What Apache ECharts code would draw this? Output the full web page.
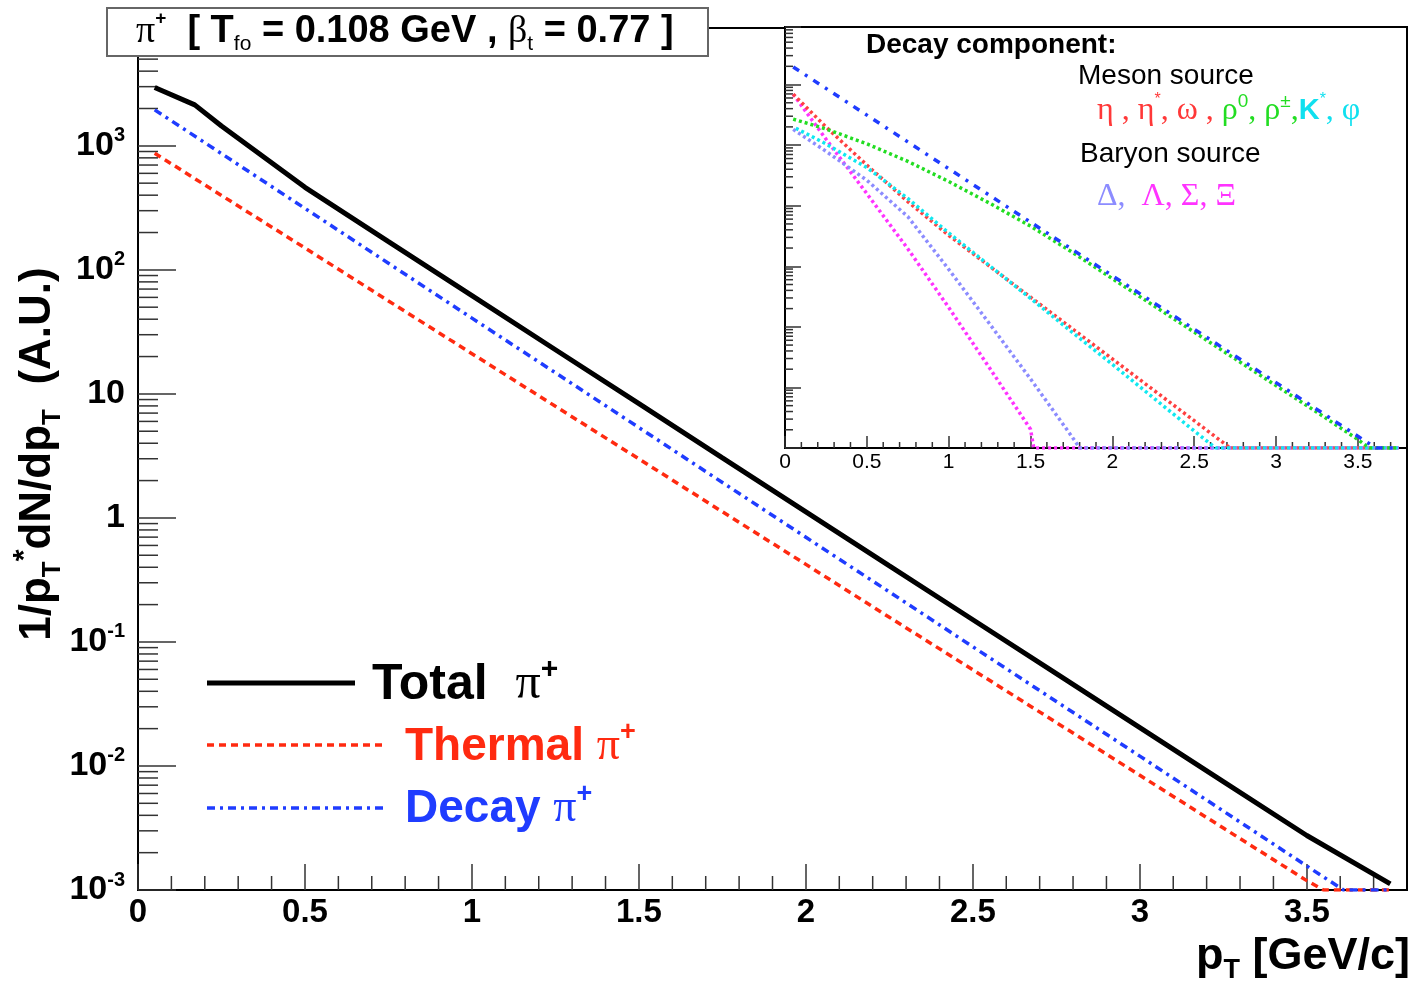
<!DOCTYPE html>
<html>
<head>
<meta charset="utf-8">
<script src="https://cdn.jsdelivr.net/npm/echarts@6/dist/echarts.min.js"></script>
<style>
html,body{margin:0;padding:0;background:#fff;}
#chart{width:1412px;height:982px;}
</style>
</head>
<body>
<div id="chart"></div>
<script>
// ---------- Main panel data (pT in GeV/c, yield in A.U.) ----------
const totalPt   = [0.05, 0.17, 0.25, 0.5, 0.75, 1.0, 1.25, 1.5, 1.75, 2.0, 2.25, 2.5, 2.75, 3.0, 3.25, 3.5, 3.75];
const totalVal  = [2950, 2140, 1445, 463, 169, 61.9, 22.7, 8.34, 3.05, 1.12, 0.411, 0.151, 0.0555, 0.0204, 0.00749, 0.00275, 0.00112];
const thermalPt = [0.05, 0.25, 0.5, 0.75, 1.0, 1.25, 1.5, 1.75, 2.0, 2.25, 2.5, 2.75, 3.0, 3.25, 3.5, 3.55, 3.75];
const thermalVal= [871, 398, 150, 56.2, 21.1, 7.94, 2.99, 1.12, 0.422, 0.158, 0.0596, 0.0224, 0.00841, 0.00316, 0.00119, 0.001, 0.001];
const decayPt   = [0.05, 0.25, 0.5, 0.75, 1.0, 1.25, 1.5, 1.75, 2.0, 2.25, 2.5, 2.75, 3.0, 3.25, 3.5, 3.61, 3.75];
const decayVal  = [1950, 865, 313, 113, 40.8, 14.8, 5.35, 1.93, 0.698, 0.253, 0.0914, 0.0331, 0.0120, 0.00433, 0.00156, 0.001, 0.001];

// ---------- Inset: decay components ----------
const etaPt     = [0.05, 0.25, 0.5, 0.75, 1.0, 1.25, 1.5, 1.75, 2.0, 2.25, 2.5, 2.72, 3.75];
const etaVal    = [692, 200, 46.8, 11.7, 3.24, 1.0, 0.309, 0.0955, 0.0295, 0.00912, 0.00282, 0.001, 0.001];
const rhoPt     = [0.05, 0.25, 0.5, 0.75, 1.0, 1.25, 1.5, 1.75, 2.0, 2.25, 2.5, 2.75, 3.0, 3.25, 3.5, 3.57, 3.75];
const rhoVal    = [269, 185, 105, 54.0, 25.1, 11.0, 4.6, 1.74, 0.625, 0.226, 0.0818, 0.0296, 0.0107, 0.0039, 0.00138, 0.001, 0.001];
const kstarPt   = [0.05, 0.25, 0.5, 0.75, 1.0, 1.25, 1.5, 1.75, 2.0, 2.25, 2.5, 2.63, 3.75];
const kstarVal  = [200, 105, 42.7, 13.2, 3.55, 1.02, 0.295, 0.0832, 0.024, 0.00676, 0.00191, 0.001, 0.001];
const deltaPt   = [0.05, 0.25, 0.5, 0.75, 1.0, 1.25, 1.5, 1.75, 1.8, 3.75];
const deltaVal  = [182, 79.4, 26.3, 6.61, 0.891, 0.112, 0.0138, 0.00158, 0.001, 0.001];
const hyperonPt = [0.05, 0.25, 0.5, 0.75, 1.0, 1.25, 1.5, 1.52, 3.75];
const hyperonVal= [692, 126, 15.8, 1.95, 0.209, 0.0209, 0.00204, 0.001, 0.001];

// ---------- Axis ranges / ticks ----------
const X_MIN = 0, X_MAX = 3.8, X_STEP = 0.5;
const Y_MIN = 0.001, Y_MAX = 8913;
const xMinorTicks = [];
for (let i = 1; i <= 37; i++) if (i % 5 !== 0) xMinorTicks.push(i / 10);
const yMinorTicks = [];
for (let e = -3; e <= 3; e++) for (let k = 2; k <= 9; k++) { const v = k * Math.pow(10, e); if (v < Y_MAX) yMinorTicks.push(v); }

const pair = (xs, ys) => xs.map((x, i) => [x, ys[i]]);

const chart = echarts.init(document.getElementById('chart'), null, {renderer: 'canvas'});

const SANS = 'Liberation Sans, Arial, Helvetica, sans-serif';
const SERIF = 'Liberation Serif, Times New Roman, serif';

function yLabel(v) {
  const e = Math.round(Math.log10(v));
  if (Math.abs(Math.log10(v) - e) > 1e-6) return '';
  if (e === 0) return '1';
  if (e === 1) return '10';
  return '10{sup|' + e + '}';
}

function minorSeries(xi, yi, dir, len, data) {
  return {
    type: 'custom', xAxisIndex: xi, yAxisIndex: yi, silent: true, clip: false, z: 3,
    data: data,
    renderItem: function (params, api) {
      const p = api.coord([api.value(0), api.value(1)]);
      const shape = dir === 'y'
        ? {x1: p[0], y1: p[1], x2: p[0] + len, y2: p[1]}
        : {x1: p[0], y1: p[1], x2: p[0], y2: p[1] - len};
      return {type: 'line', shape: shape, style: {stroke: '#333', lineWidth: 1.5}};
    }
  };
}

const DOT = [3, 3];

const option = {
  backgroundColor: '#fff',
  animation: false,
  textStyle: {fontFamily: SANS},
  grid: [
    {left: 138, top: 28, right: 5, bottom: 92, show: true, borderColor: '#000', borderWidth: 2, backgroundColor: 'rgba(0,0,0,0)', containLabel: false},
    {left: 785, top: 27, right: 5, bottom: 534, show: true, borderColor: '#000', borderWidth: 2, backgroundColor: '#fff', containLabel: false, z: 5}
  ],
  xAxis: [
    {
      type: 'value', gridIndex: 0, min: X_MIN, max: X_MAX, interval: X_STEP,
      axisLine: {show: true, onZero: false, lineStyle: {color: '#000', width: 2}},
      axisTick: {show: true, inside: true, length: 26, lineStyle: {color: '#333', width: 1.5}},
      splitLine: {show: false},
      axisLabel: {show: true, showMaxLabel: false, margin: 6, color: '#000', fontSize: 33, fontWeight: 'bold', fontFamily: SANS,
        formatter: v => (Math.abs(v / X_STEP - Math.round(v / X_STEP)) < 1e-6 ? String(+v.toFixed(1)) : '')}
    },
    {
      type: 'value', gridIndex: 1, min: X_MIN, max: X_MAX, interval: X_STEP, z: 6,
      axisLine: {show: true, onZero: false, lineStyle: {color: '#000', width: 2}},
      axisTick: {show: true, inside: true, length: 12, lineStyle: {color: '#333', width: 1.5}},
      splitLine: {show: false},
      axisLabel: {show: true, showMaxLabel: false, margin: 4, color: '#000', fontSize: 21, fontFamily: SANS,
        formatter: v => (Math.abs(v / X_STEP - Math.round(v / X_STEP)) < 1e-6 ? String(+v.toFixed(1)) : '')}
    }
  ],
  yAxis: [
    {
      type: 'log', logBase: 10, gridIndex: 0, min: Y_MIN, max: Y_MAX,
      axisLine: {show: true, onZero: false, lineStyle: {color: '#000', width: 2}},
      axisTick: {show: true, inside: true, length: 38, lineStyle: {color: '#333', width: 1.5}},
      splitLine: {show: false},
      axisLabel: {show: true, showMaxLabel: false, margin: 13, color: '#000', fontSize: 34, fontWeight: 'bold', fontFamily: SANS, lineHeight: 40,
        formatter: yLabel,
        rich: {sup: {fontSize: 20, fontWeight: 'bold', verticalAlign: 'top', lineHeight: 20, fontFamily: SANS, color: '#000'}}}
    },
    {
      type: 'log', logBase: 10, gridIndex: 1, min: Y_MIN, max: Y_MAX, z: 6,
      axisLine: {show: true, onZero: false, lineStyle: {color: '#000', width: 2}},
      axisTick: {show: true, inside: true, length: 16, lineStyle: {color: '#333', width: 1.5}},
      splitLine: {show: false},
      axisLabel: {show: false}
    }
  ],
  series: [
    minorSeries(0, 0, 'y', 20, yMinorTicks.map(v => [0, v])),
    minorSeries(0, 0, 'x', 14, xMinorTicks.map(v => [v, Y_MIN])),
    {name: 'Thermal', type: 'line', xAxisIndex: 0, yAxisIndex: 0, data: pair(thermalPt, thermalVal), showSymbol: false, z: 4,
      lineStyle: {color: '#ff2a10', width: 3.5, type: [7, 5]}},
    {name: 'Decay', type: 'line', xAxisIndex: 0, yAxisIndex: 0, data: pair(decayPt, decayVal), showSymbol: false, z: 4,
      lineStyle: {color: '#1f3cff', width: 3.5, type: [8, 5, 3, 5]}},
    {name: 'Total', type: 'line', xAxisIndex: 0, yAxisIndex: 0, data: pair(totalPt, totalVal), showSymbol: false, z: 4,
      lineStyle: {color: '#000', width: 5}},

    Object.assign(minorSeries(1, 1, 'y', 8, yMinorTicks.map(v => [0, v])), {z: 7}),
    Object.assign(minorSeries(1, 1, 'x', 6, xMinorTicks.map(v => [v, Y_MIN])), {z: 7}),
    {name: 'hyperon', type: 'line', xAxisIndex: 1, yAxisIndex: 1, data: pair(hyperonPt, hyperonVal), showSymbol: false, z: 8,
      lineStyle: {color: '#ff33ff', width: 3.5, type: DOT}},
    {name: 'delta', type: 'line', xAxisIndex: 1, yAxisIndex: 1, data: pair(deltaPt, deltaVal), showSymbol: false, z: 8,
      lineStyle: {color: '#8c8cff', width: 3.5, type: DOT}},
    {name: 'eta', type: 'line', xAxisIndex: 1, yAxisIndex: 1, data: pair(etaPt, etaVal), showSymbol: false, z: 8,
      lineStyle: {color: '#ff4040', width: 3.5, type: DOT}},
    {name: 'kstar', type: 'line', xAxisIndex: 1, yAxisIndex: 1, data: pair(kstarPt, kstarVal), showSymbol: false, z: 8,
      lineStyle: {color: '#10e8f0', width: 3.5, type: DOT, dashOffset: 3}},
    {name: 'rho', type: 'line', xAxisIndex: 1, yAxisIndex: 1, data: pair(rhoPt, rhoVal), showSymbol: false, z: 8,
      lineStyle: {color: '#22dd22', width: 3.5, type: DOT}},
    {name: 'decayInset', type: 'line', xAxisIndex: 1, yAxisIndex: 1, data: pair(decayPt, decayVal), showSymbol: false, z: 9,
      lineStyle: {color: '#1f3cff', width: 3.5, type: [7, 7, 3, 7]}}
  ],
  graphic: [
    // title box
    {type: 'rect', z: 100, shape: {x: 107, y: 8, width: 601, height: 48}, style: {fill: '#fff', stroke: '#666', lineWidth: 2}},
    {type: 'text', z: 101, x: 136, y: 32, style: {
      text: '{pi|π}{psup|+}  [ T{sub|fo} = 0.108 GeV , {pi|β}{sub|t} = 0.77 ]',
      font: 'bold 38px ' + SANS, fill: '#000', verticalAlign: 'middle', align: 'left', lineHeight: 46,
      rich: {
        pi: {fontFamily: SERIF, fontSize: 38, fontWeight: 'normal', fill: '#000'},
        psup: {fontFamily: SANS, fontSize: 19, fontWeight: 'bold', verticalAlign: 'top', lineHeight: 19},
        sub: {fontFamily: SANS, fontSize: 21, fontWeight: 'normal', verticalAlign: 'bottom', lineHeight: 16}
      }}},
    // y axis title
    {type: 'text', z: 100, x: 38, y: 454, rotation: Math.PI / 2, style: {
      text: '1/p{sub|T}{sup|*}dN/dp{sub|T}  (A.U.)',
      font: 'bold 44px ' + SANS, fill: '#000', align: 'center', verticalAlign: 'middle', lineHeight: 56,
      rich: {
        sub: {fontFamily: SANS, fontSize: 26, fontWeight: 'bold', verticalAlign: 'bottom', lineHeight: 24},
        sup: {fontFamily: SANS, fontSize: 30, fontWeight: 'bold', verticalAlign: 'top', lineHeight: 28}
      }}},
    // x axis title
    {type: 'text', z: 100, x: 1410, y: 957, style: {
      text: 'p{sub|T} [GeV/c]',
      font: 'bold 45px ' + SANS, fill: '#000', align: 'right', verticalAlign: 'middle', lineHeight: 54,
      rich: {sub: {fontFamily: SANS, fontSize: 27, fontWeight: 'bold', verticalAlign: 'bottom', lineHeight: 22}}}},
    // legend
    {type: 'line', z: 100, shape: {x1: 207, y1: 683, x2: 355, y2: 683}, style: {stroke: '#000', lineWidth: 5}},
    {type: 'text', z: 100, x: 372, y: 685, style: {
      text: 'Total  {pi|π}{sup|+}', font: 'bold 50px ' + SANS, fill: '#000', verticalAlign: 'middle', lineHeight: 60,
      rich: {pi: {fontFamily: SERIF, fontSize: 50, fontWeight: 'normal'}, sup: {fontFamily: SANS, fontSize: 30, fontWeight: 'bold', verticalAlign: 'top', lineHeight: 30}}}},
    {type: 'line', z: 100, shape: {x1: 207, y1: 745, x2: 385, y2: 745}, style: {stroke: '#ff2a10', lineWidth: 3.5, lineDash: [7, 5]}},
    {type: 'text', z: 100, x: 405, y: 747, style: {
      text: 'Thermal {pi|π}{sup|+}', font: 'bold 46px ' + SANS, fill: '#ff2a10', verticalAlign: 'middle', lineHeight: 56,
      rich: {pi: {fontFamily: SERIF, fontSize: 46, fontWeight: 'normal'}, sup: {fontFamily: SANS, fontSize: 27, fontWeight: 'bold', verticalAlign: 'top', lineHeight: 27}}}},
    {type: 'line', z: 100, shape: {x1: 207, y1: 808, x2: 388, y2: 808}, style: {stroke: '#1f3cff', lineWidth: 3.5, lineDash: [8, 5, 3, 5]}},
    {type: 'text', z: 100, x: 405, y: 809, style: {
      text: 'Decay {pi|π}{sup|+}', font: 'bold 46px ' + SANS, fill: '#1f3cff', verticalAlign: 'middle', lineHeight: 56,
      rich: {pi: {fontFamily: SERIF, fontSize: 46, fontWeight: 'normal'}, sup: {fontFamily: SANS, fontSize: 27, fontWeight: 'bold', verticalAlign: 'top', lineHeight: 27}}}},
    // inset annotations
    {type: 'text', z: 100, x: 866, y: 45, style: {text: 'Decay component:', font: 'bold 28px ' + SANS, fill: '#000', verticalAlign: 'middle'}},
    {type: 'text', z: 100, x: 1078, y: 76, style: {text: 'Meson source', font: '28px ' + SANS, fill: '#000', verticalAlign: 'middle'}},
    {type: 'text', z: 100, x: 1097, y: 111, style: {
      text: '{r|η , η}{rs|*}{r|, ω , }{g|ρ}{gs|0}{g|, ρ}{gs|±}{g|,}{k|K}{ks|*}{c|, φ}',
      font: '32px ' + SERIF, verticalAlign: 'middle', lineHeight: 38,
      rich: {
        r: {fill: '#ff3838', fontFamily: SERIF, fontSize: 32},
        rs: {fill: '#ff3838', fontFamily: SANS, fontSize: 16, verticalAlign: 'top', lineHeight: 16},
        g: {fill: '#22dd22', fontFamily: SERIF, fontSize: 32},
        gs: {fill: '#22dd22', fontFamily: SANS, fontSize: 19, verticalAlign: 'top', lineHeight: 19},
        k: {fill: '#10e0ef', fontFamily: SANS, fontSize: 29, fontWeight: 'bold'},
        ks: {fill: '#10e0ef', fontFamily: SANS, fontSize: 16, verticalAlign: 'top', lineHeight: 16},
        c: {fill: '#10e0ef', fontFamily: SERIF, fontSize: 32}
      }}},
    {type: 'text', z: 100, x: 1080, y: 154, style: {text: 'Baryon source', font: '28px ' + SANS, fill: '#000', verticalAlign: 'middle'}},
    {type: 'text', z: 100, x: 1097, y: 197, style: {
      text: '{d|Δ,}  {m|Λ, Σ, Ξ}', font: '32px ' + SERIF, verticalAlign: 'middle',
      rich: {d: {fill: '#8c8cff', fontFamily: SERIF, fontSize: 32}, m: {fill: '#ff33ff', fontFamily: SERIF, fontSize: 32}}}}
  ]
};
chart.setOption(option);
</script>
</body>
</html>
